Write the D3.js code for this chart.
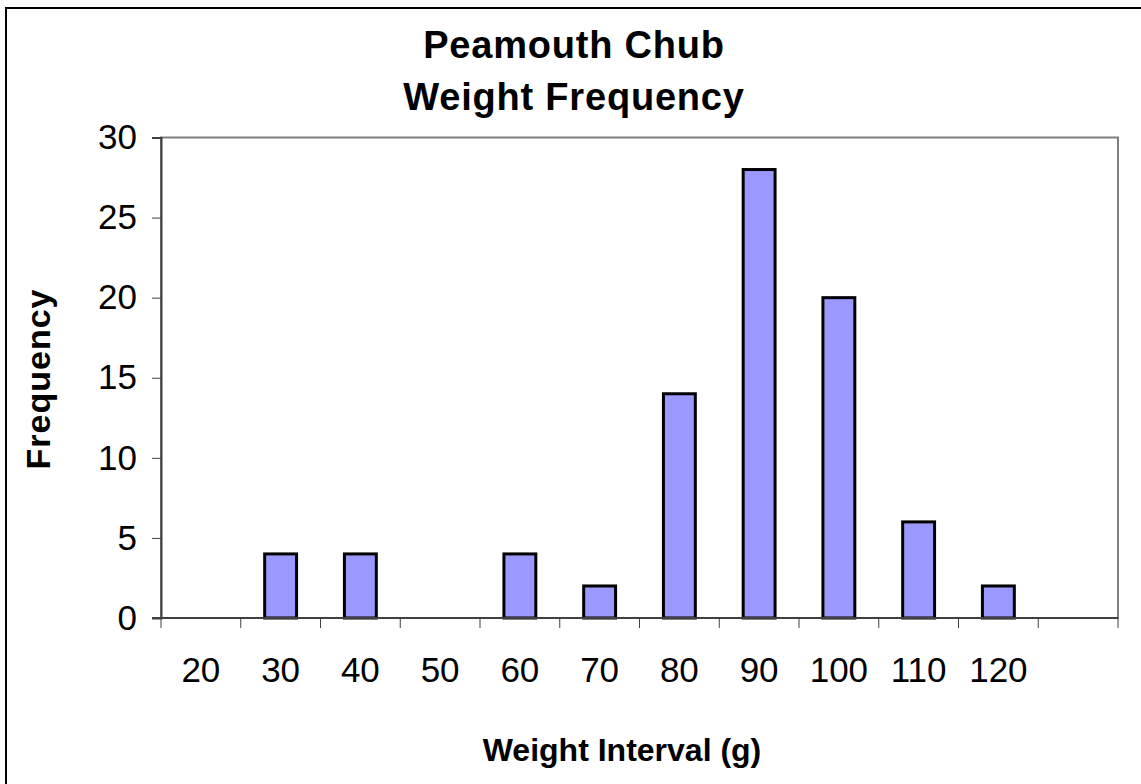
<!DOCTYPE html>
<meta charset="utf-8">
<head>
    <title>Peamouth Chub Weight Frequency</title>
    <script type="text/javascript" src="https://d3js.org/d3.v7.min.js"></script>
    <style>
        body { margin: 0; background: #fff; }
        text { font-family: Arial, "Liberation Sans", sans-serif; fill: #000; }
        .title, .axis-label { font-weight: bold; }
    </style>
</head>

<body>
    <div id="chart"></div>

    <script>
        // weight intervals (last slot has no label)
        var intervals = ["20", "30", "40", "50", "60", "70", "80", "90", "100", "110", "120", ""];
        // frequency per interval
        var frequency = [0, 4, 4, 0, 4, 2, 14, 28, 20, 6, 2, 0];
        var yTicks = [0, 5, 10, 15, 20, 25, 30];
        var titleLines = ["Peamouth Chub", "Weight Frequency"];

        var width = 1141;
        var height = 784;
        var margin = { top: 137.5, left: 161, bottom: 166, right: 23 };

        var svg = d3.select("#chart").append("svg")
                    .attr("width", width)
                    .attr("height", height);

        // outer chart border (right/bottom edges run off the picture)
        svg.append("rect")
           .attr("x", 6).attr("y", 8)
           .attr("width", width + 20).attr("height", height + 20)
           .attr("fill", "none")
           .attr("stroke", "#000")
           .attr("stroke-width", 2);

        var x = d3.scaleBand()
                  .domain(intervals)
                  .range([margin.left, width - margin.right])
                  .padding(0);

        var y = d3.scaleLinear()
                  .domain([0, 30])
                  .range([height - margin.bottom, margin.top]);

        // plot area frame
        svg.append("rect")
           .attr("x", margin.left)
           .attr("y", margin.top)
           .attr("width", width - margin.right - margin.left)
           .attr("height", y(0) - margin.top)
           .attr("fill", "none")
           .attr("stroke", "#808080")
           .attr("stroke-width", 2);

        // bars
        var barW = x.bandwidth() / 2.5;
        svg.append("g")
           .selectAll("rect")
           .data(intervals.map(function(d, i) { return { label: d, value: frequency[i] }; })
                          .filter(function(d) { return d.value > 0; }))
           .enter().append("rect")
           .attr("x", function(d) { return x(d.label) + (x.bandwidth() - barW) / 2; })
           .attr("y", function(d) { return y(d.value); })
           .attr("width", barW)
           .attr("height", function(d) { return y(0) - y(d.value); })
           .attr("fill", "#9999ff")
           .attr("stroke", "#000")
           .attr("stroke-width", 3);

        // y axis
        var yAxis = svg.append("g")
                       .attr("transform", "translate(" + margin.left + ",0)")
                       .call(d3.axisLeft(y).tickValues(yTicks).tickSize(9).tickPadding(15));
        yAxis.select(".domain").attr("stroke", "#404040").attr("stroke-width", 2);
        yAxis.selectAll(".tick line").attr("stroke", "#404040");
        yAxis.selectAll(".tick text").attr("font-size", "35px").attr("font-family", "Arial, 'Liberation Sans', sans-serif");

        // x axis: ticks on band edges, labels in band centres
        var xEdges = intervals.map(function(d) { return x(d); }).concat([width - margin.right]);
        var xAxis = svg.append("g");
        xAxis.append("line")
             .attr("x1", margin.left - 9).attr("x2", width - margin.right)
             .attr("y1", y(0)).attr("y2", y(0))
             .attr("stroke", "#404040").attr("stroke-width", 2);
        xAxis.selectAll(".xtick")
             .data(xEdges)
             .enter().append("line")
             .attr("class", "xtick")
             .attr("x1", function(d) { return d; }).attr("x2", function(d) { return d; })
             .attr("y1", y(0)).attr("y2", y(0) + 10)
             .attr("stroke", "#404040");
        xAxis.selectAll(".xlabel")
             .data(intervals)
             .enter().append("text")
             .attr("class", "xlabel")
             .attr("x", function(d) { return x(d) + x.bandwidth() / 2; })
             .attr("y", 682)
             .attr("text-anchor", "middle")
             .attr("font-size", "35px")
             .text(function(d) { return d; });

        // title
        svg.append("g").selectAll("text")
           .data(titleLines)
           .enter().append("text")
           .attr("class", "title")
           .attr("x", 574)
           .attr("y", function(d, i) { return 58 + i * 52; })
           .attr("text-anchor", "middle")
           .attr("font-size", "38px")
           .attr("letter-spacing", "0.8px")
           .text(function(d) { return d; });

        // axis titles
        svg.append("text")
           .attr("class", "axis-label")
           .attr("x", 622)
           .attr("y", 761)
           .attr("text-anchor", "middle")
           .attr("font-size", "32px")
           .text("Weight Interval (g)");

        svg.append("text")
           .attr("class", "axis-label")
           .attr("transform", "translate(50,379) rotate(-90)")
           .attr("text-anchor", "middle")
           .attr("font-size", "34px")
           .attr("letter-spacing", "1px")
           .text("Frequency");
    </script>
</body>
</html>
